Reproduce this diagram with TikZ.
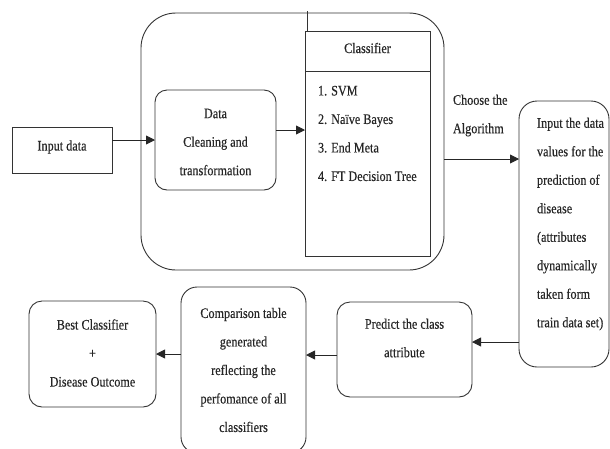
\documentclass[tikz,border=0pt]{standalone}
\usepackage{fontspec}
\setmainfont{Liberation Serif}[FakeStretch=0.84,FakeBold=0.4]
\usetikzlibrary{arrows.meta}
\begin{document}
\begin{tikzpicture}[x=1pt,y=-1pt,
  line width=0.9pt,
  every node/.style={inner sep=0pt,outer sep=0pt},
  txt/.style={font=\fontsize{14.5}{28.5}\selectfont,text=black!85},
  rbox/.style={draw=black!80,rounded corners=#1},
  arr/.style={draw=black!85,-{Triangle[length=9pt,width=9pt]}}]
\useasboundingbox (0,0) rectangle (610,448);

% boxes
\node[draw=black!80,minimum width=100pt,minimum height=46pt] (inp) at (62,150) {};
\node[rbox=35pt,minimum width=303pt,minimum height=257pt] (big) at (292.5,141.5) {};
\node[rbox=12pt,minimum width=121pt,minimum height=100pt] (clean) at (215.5,140) {};
\node[draw=black!80,minimum width=125pt,minimum height=225pt] (cls) at (367.5,143.5) {};
\node[rbox=18pt,minimum width=90pt,minimum height=266pt] (vals) at (564,234) {};
\node[rbox=13pt,minimum width=135pt,minimum height=95pt] (pred) at (404.5,349.5) {};
\node[rbox=16pt,minimum width=125pt,minimum height=166pt] (cmp) at (243.5,370) {};
\node[rbox=13pt,minimum width=127pt,minimum height=106pt] (best) at (92.5,354) {};

% classifier header divider and top tick
\coordinate (hdl) at (305,71);
\coordinate (hdr) at (430,71);
\draw[black!80] (hdl) -- (hdr);
\coordinate (tick) at (307,11);
\draw[black!80] (tick) -- (tick |- cls.north);

% texts
\node[txt] (tinp) at (62,147) {Input data};
\node[txt,align=center] (tclean) at (215.5,142) {Data\\Cleaning and\\transformation};
\node[txt] (tcls) at (367.5,48) {Classifier};
\node[txt,align=left,anchor=west] (titems) at (318,133.5)
  {1. SVM\\2. Naïve Bayes\\3. End Meta\\4. FT Decision Tree};
\node[txt,align=left,anchor=west] (tchoose) at (453,115.5) {Choose the\\Algorithm};
\node[txt,align=left,anchor=west] (tvals) at (537,224)
  {Input the data\\values for the\\prediction of\\disease\\(attributes\\dynamically\\taken form\\train data set)};
\node[txt,align=center] (tpred) at (404.5,338) {Predict the class\\attribute};
\node[txt,align=center] (tcmp) at (243.5,370)
  {Comparison table\\generated\\reflecting the\\perfomance of all\\classifiers};
\node[txt,align=center] (tbest) at (92.5,353) {Best Classifier\\+\\Disease Outcome};

% connectors
\draw[arr] ([yshift=10pt]inp.east) -- ([yshift=10pt]inp.east -| clean.west);
\draw[arr] ([yshift=10pt]clean.east) -- ([yshift=10pt]clean.east -| cls.west);
\draw[arr] ([yshift=-17.5pt]big.east) -- ([yshift=-17.5pt]big.east -| vals.west);
\draw[arr] ([yshift=7.5pt]pred.east -| vals.west) -- ([yshift=7.5pt]pred.east);
\draw[arr] ([yshift=-5.5pt]pred.west) -- ([yshift=-5.5pt]pred.west -| cmp.east);
\draw[arr] (best.east -| cmp.west) -- (best.east);
\end{tikzpicture}
\end{document}
